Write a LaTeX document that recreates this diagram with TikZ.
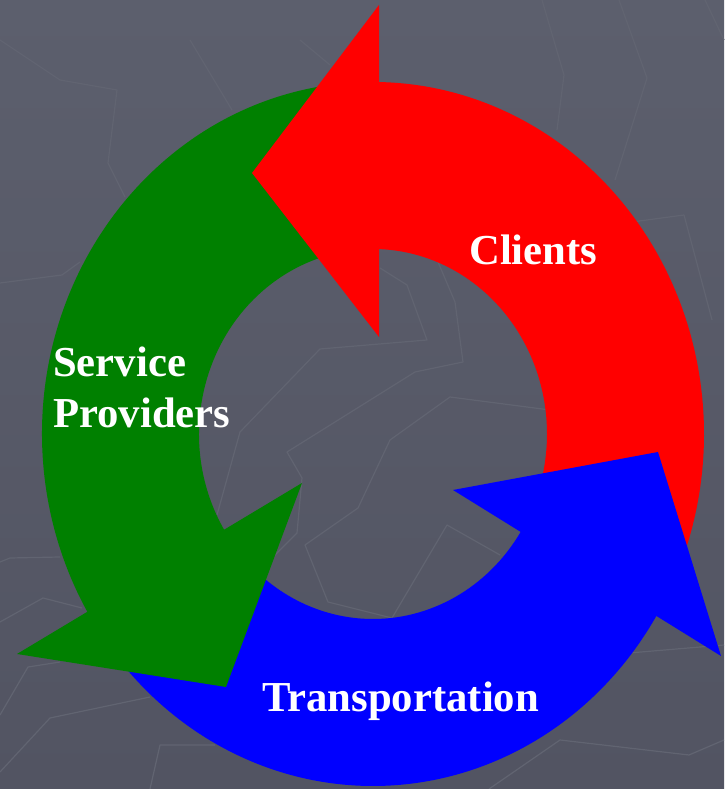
\documentclass[tikz,border=0pt]{standalone}
\usepackage{fontspec}
\setmainfont{Liberation Serif}
\usetikzlibrary{calc}

\definecolor{slatetop}{RGB}{92,95,109}
\definecolor{slatebottom}{RGB}{82,84,98}
\definecolor{slateline}{RGB}{97,100,113}
\definecolor{clientred}{RGB}{255,0,0}
\definecolor{providergreen}{RGB}{0,128,0}
\definecolor{transportblue}{RGB}{0,0,255}

\tikzset{
  outer ring/.style={x radius=331,y radius=352},
  inner ring/.style={x radius=174,y radius=185},
  cycle label/.style={text=white,inner sep=0pt,anchor=base west,
    font=\bfseries\fontsize{42.7}{51}\selectfont}
}

\begin{document}
\begin{tikzpicture}[x=1pt,y=1pt]

  \useasboundingbox (0,0) rectangle (724,789);
  \fill[top color=slatetop,bottom color=slatebottom] (0,0) rectangle (724,789);

  \begin{scope}[draw=slateline,line width=1.2pt,line join=round]
    \draw (0,749) -- (60,709) -- (117,699) -- (108,626) -- (125,592);
    \draw (190,749) -- (232,679);
    \draw (300,749) -- (330,724);
    \draw (0,506) -- (62,514) -- (80,527);
    \draw (217,274) -- (240,357) -- (320,440) -- (427,449) -- (407,504) -- (380,521);
    \draw (438,527) -- (455,487) -- (463,427) -- (415,417) -- (287,337) -- (302,311) -- (297,256) -- (272,231);
    \draw (550,379) -- (450,392) -- (390,349) -- (358,281) -- (305,244) -- (328,187) -- (392,171) -- (447,264) -- (500,234);
    \draw (619,789) -- (647,711) -- (615,609);
    \draw (542,789) -- (564,714) -- (557,659);
    \draw (632,567) -- (684,574) -- (712,469);
    \draw (705,789) -- (724,749);
    \draw (489,0) -- (560,49) -- (689,34) -- (724,49);
    \draw (629,136) -- (724,144);
    \draw (0,227) -- (10,231) -- (60,232);
    \draw (0,167) -- (43,191) -- (82,181);
    \draw (0,74) -- (28,122) -- (60,127);
    \draw (0,17) -- (50,71) -- (150,92);
    \draw (150,0) -- (160,44) -- (215,44);
  \end{scope}

  \coordinate (c) at (373,355);

  \fill[providergreen] (c) ++(95:331 and 352) arc[outer ring,start angle=95,end angle=211.5]
    -- ($(c)+(211.5:174 and 185)$) arc[inner ring,start angle=211.5,end angle=95] -- cycle;
  \fill[transportblue] (c) ++(218:331 and 352) arc[outer ring,start angle=218,end angle=330]
    -- ($(c)+(330:174 and 185)$) arc[inner ring,start angle=330,end angle=218] -- cycle;
  \fill[clientred] (c) ++(-22:331 and 352) arc[outer ring,start angle=-22,end angle=92]
    -- ($(c)+(92:174 and 185)$) arc[inner ring,start angle=92,end angle=-22] -- cycle;

  \fill[providergreen] (17,135) -- (302,306) -- (226,102) -- cycle;
  \fill[transportblue] (453,299) -- (658,337) -- (721,133) -- cycle;
  \fill[clientred] (379,784) -- (252,616) -- (379,452) -- cycle;

  \begin{scope}[every node/.style={cycle label}]
    \node (clients)   at (469,524) {Clients};
    \node (service)   at (53,412)  {Service};
    \node (providers) at (53,361)  {Providers};
    \node (transport) at (262,77)  {Transportation};
  \end{scope}

\end{tikzpicture}
\end{document}
